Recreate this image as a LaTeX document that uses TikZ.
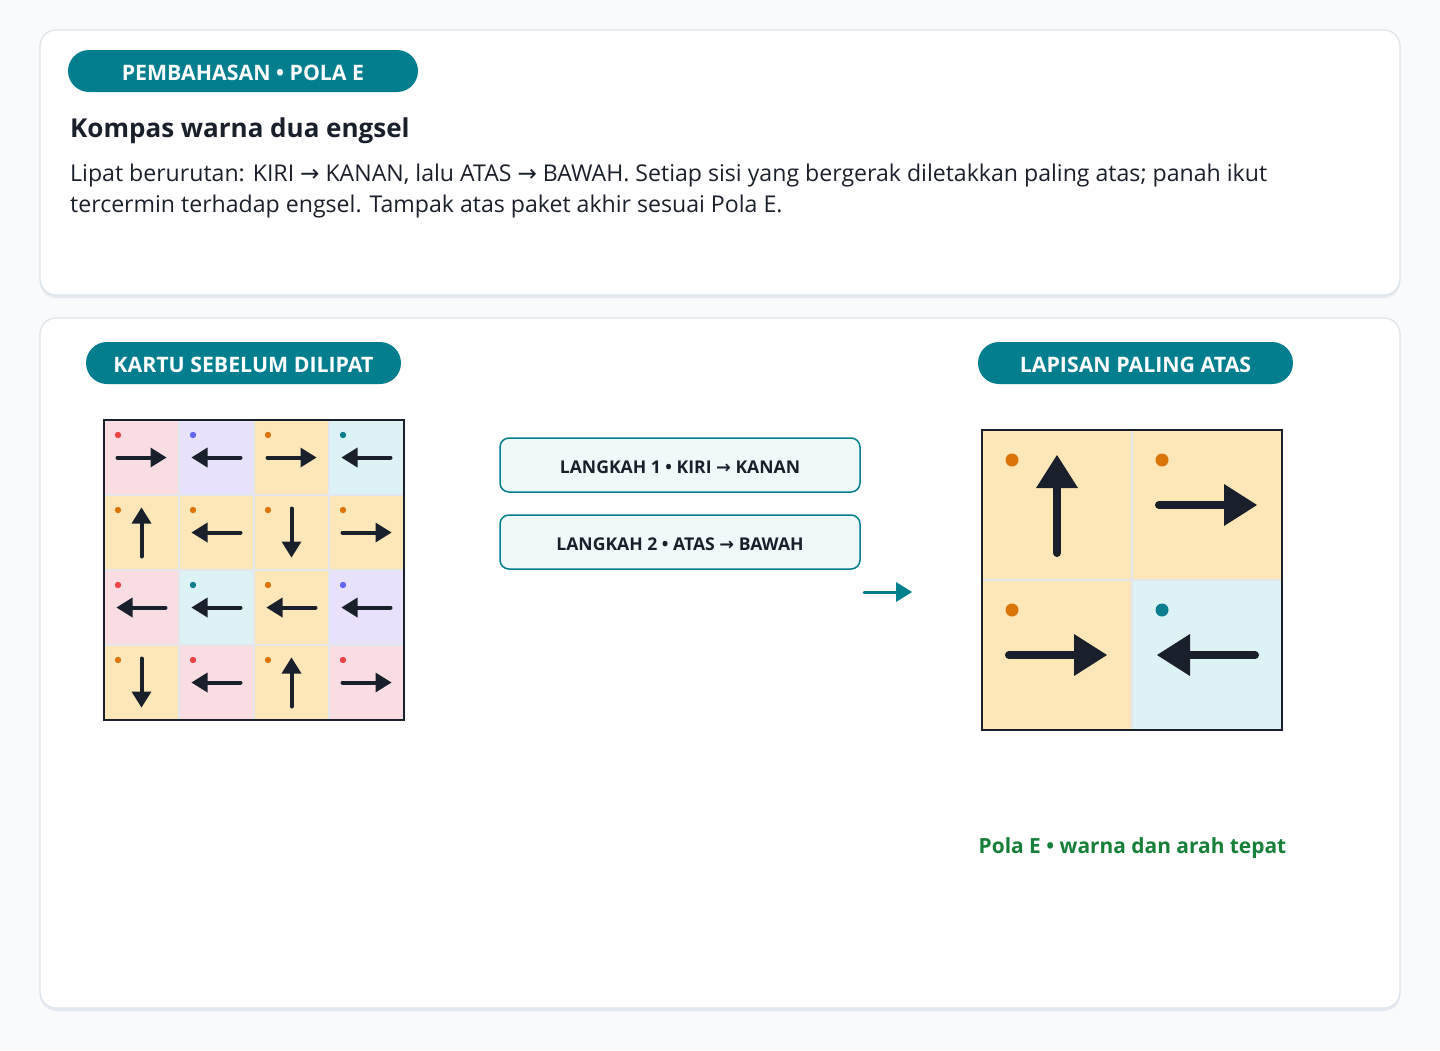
\documentclass[tikz,border=0pt]{standalone}
\usepackage{fontspec}
\setmainfont{Open Sans}
\newfontfamily\symfont{DejaVu Sans}
\usetikzlibrary{positioning}
\definecolor{bgc}{HTML}{F8FAFC}
\definecolor{cardborder}{HTML}{DCE3EA}
\definecolor{cardshadow}{HTML}{E4EAEF}
\definecolor{teal}{HTML}{037E8F}
\definecolor{ink}{HTML}{1A202B}
\definecolor{gridline}{HTML}{E3E6EA}
\definecolor{cpink}{HTML}{FADDE3}
\definecolor{clav}{HTML}{E8E1FC}
\definecolor{cyel}{HTML}{FDE7B8}
\definecolor{ccyan}{HTML}{DDF2F4}
\definecolor{dred}{HTML}{EF4444}
\definecolor{dlav}{HTML}{6366F1}
\definecolor{dyel}{HTML}{DA7406}
\definecolor{dcyan}{HTML}{0A7E8C}
\definecolor{stepfill}{HTML}{F0F9FA}
\definecolor{okgreen}{HTML}{168038}
\newcommand{\ra}{{\symfont\char"2192}}
\tikzset{
  card/.style={draw=cardborder, line width=1.2pt, fill=white, rounded corners=16pt},
  cardshad/.style={fill=cardshadow, rounded corners=16pt},
  pill/.style={fill=teal, rounded corners=21pt, text=white, font=\bfseries\fontsize{21.3}{23}\selectfont, inner sep=0pt, text height=19.2pt, text depth=0pt},
  stepbox/.style={draw=teal, line width=1.5pt, fill=stepfill, rounded corners=9pt, minimum width=360pt, minimum height=54pt, text=ink, font=\bfseries\fontsize{17.6}{19}\selectfont, inner sep=0pt, text height=16.6pt, text depth=0pt},
  bodytext/.style={anchor=base west, text=ink, font=\fontsize{23.1}{31}\selectfont, inner sep=0pt},
  smallarr/.pic={\draw[ink, line width=4pt, line cap=round] (-24,0) -- (10,0); \fill[ink] (25,0) -- (9,10) -- (9,-10) -- cycle;},
  bigarr/.pic={\draw[ink, line width=8pt, line cap=round] (-48,0) -- (20,0); \fill[ink] (50,0) -- (17,21) -- (17,-21) -- cycle;},
}
\newcommand{\scell}[5]{% col row fill dot dir
  \fill[#3] ({104+75*#1},{420+75*#2}) rectangle ++(75,75);
  \fill[#4] ({104+75*#1+14},{420+75*#2+15}) circle (3.2);
  \pic[rotate=#5] at ({104+75*#1+37.5},{420+75*#2+37.5}) {smallarr};
}
\newcommand{\bcell}[5]{%
  \fill[#3] ({982+150*#1},{430+150*#2}) rectangle ++(150,150);
  \fill[#4] ({982+150*#1+30},{430+150*#2+30}) circle (6.5);
  \pic[rotate=#5] at ({982+150*#1+75},{430+150*#2+75}) {bigarr};
}
\begin{document}
\begin{tikzpicture}[x=1pt,y=-1pt]
\fill[bgc] (0,0) rectangle (1440,1050);
\useasboundingbox (0,0) rectangle (1440,1050);
% cards
\fill[cardshad] (40,33) rectangle (1400,298);
\draw[card] (40,30) rectangle (1400,295);
\fill[cardshad] (40,321) rectangle (1400,1011);
\draw[card] (40,318) rectangle (1400,1008);
% header
\node[pill, minimum width=350pt, minimum height=42pt] (tag) at (243,71) {PEMBAHASAN • POLA E};
\node[anchor=base west, text=ink, font=\bfseries\fontsize{26}{28}\selectfont, inner sep=0pt] (title) at (70,137) {Kompas warna dua engsel};
\node[bodytext] (body1) at (70,181) {Lipat berurutan: KIRI \ra{} KANAN, lalu ATAS \ra{} BAWAH. Setiap sisi yang bergerak diletakkan paling atas; panah ikut};
\node[bodytext] (body2) at (70,212) {tercermin terhadap engsel. Tampak atas paket akhir sesuai Pola E.};
% pills
\node[pill, minimum width=315pt, minimum height=42pt] (before) at (243.5,363) {KARTU SEBELUM DILIPAT};
\node[pill, minimum width=315pt, minimum height=42pt] (after) at (1135.5,363) {LAPISAN PALING ATAS};
% left grid
\scell{0}{0}{cpink}{dred}{0}
\scell{1}{0}{clav}{dlav}{180}
\scell{2}{0}{cyel}{dyel}{0}
\scell{3}{0}{ccyan}{dcyan}{180}
\scell{0}{1}{cyel}{dyel}{90}
\scell{1}{1}{cyel}{dyel}{180}
\scell{2}{1}{cyel}{dyel}{270}
\scell{3}{1}{cyel}{dyel}{0}
\scell{0}{2}{cpink}{dred}{180}
\scell{1}{2}{ccyan}{dcyan}{180}
\scell{2}{2}{cyel}{dyel}{180}
\scell{3}{2}{clav}{dlav}{180}
\scell{0}{3}{cyel}{dyel}{270}
\scell{1}{3}{cpink}{dred}{180}
\scell{2}{3}{cyel}{dyel}{90}
\scell{3}{3}{cpink}{dred}{0}
\foreach \i in {1,2,3} {
  \draw[gridline, line width=2pt] ({104+75*\i},420) -- ({104+75*\i},720);
  \draw[gridline, line width=2pt] (104,{420+75*\i}) -- (404,{420+75*\i});
}
\node[draw=ink, line width=2.2pt, minimum width=300pt, minimum height=300pt, inner sep=0pt] (cardgrid) at (254,570) {};
% steps
\node[stepbox] (s1) at (680,465) {LANGKAH 1 • KIRI \ra{} KANAN};
\node[stepbox] (s2) at (680,542) {LANGKAH 2 • ATAS \ra{} BAWAH};
\coordinate (a1) at (864,592);
\coordinate (a2) at (912,592);
\draw[teal, line width=3pt, line cap=round] (a1) -- (898,592);
\fill[teal] (a2) -- (896,582) -- (896,602) -- cycle;
% right grid
\bcell{0}{0}{cyel}{dyel}{90}
\bcell{1}{0}{cyel}{dyel}{0}
\bcell{0}{1}{cyel}{dyel}{0}
\bcell{1}{1}{ccyan}{dcyan}{180}
\draw[gridline, line width=2pt] (1132,430) -- (1132,730);
\draw[gridline, line width=2pt] (982,580) -- (1282,580);
\node[draw=ink, line width=2.2pt, minimum width=300pt, minimum height=300pt, inner sep=0pt] (topgrid) at (1132,580) {};
\node[text=okgreen, font=\bfseries\fontsize{20.9}{24}\selectfont, anchor=base, inner sep=0pt] (cap) at (1132.5,853) {Pola E • warna dan arah tepat};
\end{tikzpicture}
\end{document}
